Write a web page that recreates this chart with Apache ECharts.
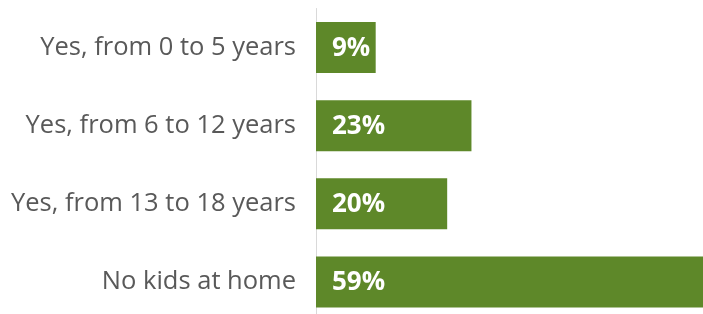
<!DOCTYPE html>
<html>
<head>
<meta charset="utf-8">
<script src="https://cdn.jsdelivr.net/npm/echarts@6/dist/echarts.min.js"></script>
<style>
  html, body { margin: 0; padding: 0; background: #fff; overflow: hidden; }
  /* the last bar runs off the bottom in the original, so the canvas is a bit taller than the window */
  #chart { width: 703px; height: 321px; }
</style>
</head>
<body>
<div id="chart"></div>
<script>
var categories = ['Yes, from 0 to 5 years', 'Yes, from 6 to 12 years', 'Yes, from 13 to 18 years', 'No kids at home'];
var values = [9.1, 23.7, 20, 59];
var valueLabels = ['9%', '23%', '20%', '59%'];

var myChart = echarts.init(document.getElementById('chart'));
var option = {
  animation: false,
  grid: { left: 316, right: 0, top: 8.5, bottom: 0 },
  xAxis: {
    type: 'value',
    min: 0,
    max: 59,
    show: false
  },
  yAxis: {
    type: 'category',
    data: categories,
    inverse: true,
    axisLine: { lineStyle: { color: '#d9d9d9', width: 1 } },
    axisTick: { show: false },
    axisLabel: {
      color: '#595959',
      fontSize: 25.5,
      fontFamily: 'Open Sans',
      margin: 20
    }
  },
  series: [{
    type: 'bar',
    data: values,
    barWidth: 51,
    itemStyle: { color: '#5e8829' },
    label: {
      show: true,
      position: 'insideLeft',
      offset: [0, 1],
      distance: 16,
      color: '#fff',
      fontSize: 26,
      fontWeight: 'bold',
      fontFamily: 'Open Sans',
      formatter: function (p) { return valueLabels[p.dataIndex]; }
    }
  }]
};
myChart.setOption(option);
</script>
</body>
</html>
